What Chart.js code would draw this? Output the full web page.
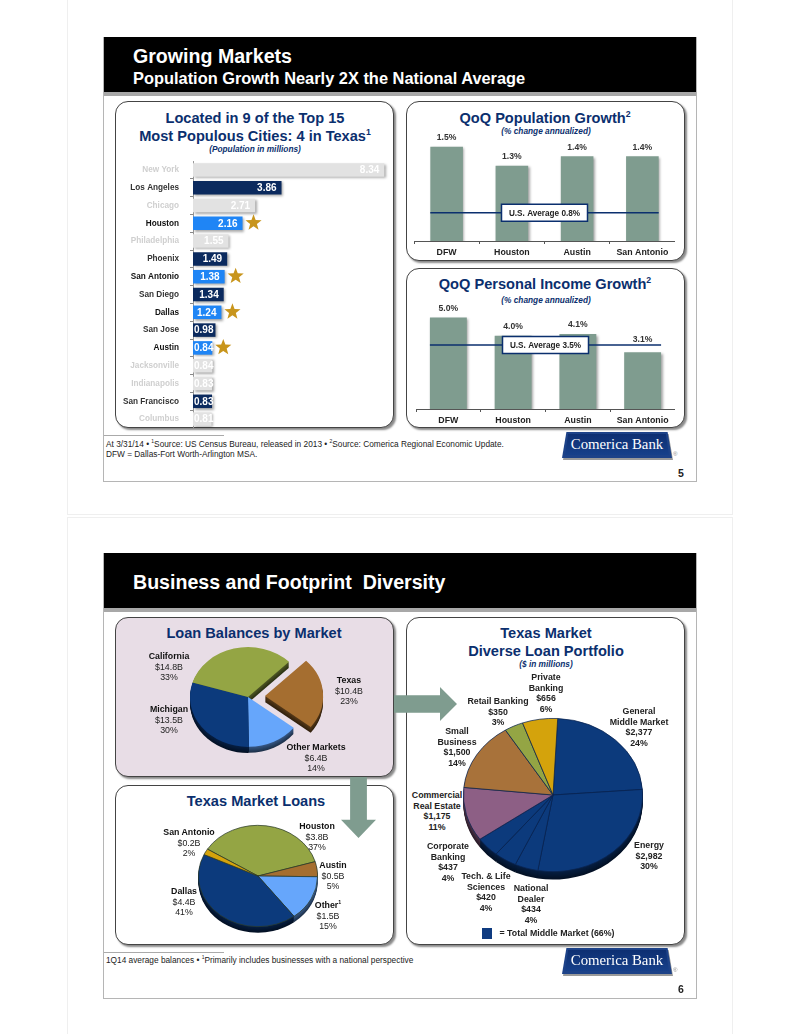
<!DOCTYPE html>
<html>
<head>
<meta charset="utf-8">
<title>Growing Markets</title>
<script src="https://cdn.jsdelivr.net/npm/chart.js@4"></script>
<style>
html, body { margin: 0; padding: 0; background: #fff; }
#page { position: relative; width: 799px; height: 1034px; overflow: hidden; font-family: "Liberation Sans", Arial, sans-serif; color: #222; }
#page div, #page canvas { position: absolute; }
.sheet { left: 67px; width: 664px; border: 1px solid #efefef; background: #fff; }
.slide { left: 103px; width: 592px; border: 1px solid #b5b5b5; background: #fff; }
.head { left: 104px; width: 592px; background: #000; border-bottom: 4px solid #a8a8a8; }
.panel { box-sizing: border-box; border: 1.5px solid #444; border-radius: 13px; background: #fff; box-shadow: 2px 2px 2px #8a8a8a; }
.rule { left: 104px; width: 120px; height: 1px; background: #aaa; }
.h1 { left: 133px; color: #fff; font-weight: bold; white-space: nowrap; }
.title { transform: translateX(-50%); text-align: center; white-space: nowrap; color: #0b2f6e; font-weight: bold; font-size: 14.6px; line-height: 17.5px; }
.sub { transform: translateX(-50%); white-space: nowrap; color: #0b2f6e; font-weight: bold; font-style: italic; font-size: 8.3px; line-height: 10px; }
.lab { transform: translateX(-50%); text-align: center; white-space: nowrap; font-size: 8.8px; line-height: 10.7px; color: #222; }
.lab b { color: #111; }
.bold { font-weight: bold; line-height: 10.5px; }
.foot { left: 106px; white-space: nowrap; font-size: 8.3px; line-height: 10px; color: #222; }
.num { left: 678px; font-size: 10.5px; font-weight: bold; color: #222; }
sup { font-size: 60%; line-height: 0; }
.logoShade { width: 110px; height: 26px; background: #9a9a9a; clip-path: polygon(4% 0, 96% 0, 100% 100%, 0 100%); }
.logoEdge { width: 110px; height: 26px; background: #1d4288; clip-path: polygon(4% 0, 96% 0, 100% 100%, 0 100%); }
.logoFill { width: 104px; height: 21px; background: linear-gradient(#0d2f72, #17408a); clip-path: polygon(3% 0, 97% 0, 100% 100%, 0 100%); }
.logoText { width: 110px; text-align: center; color: #fff; font-family: "Liberation Serif", serif; font-size: 14.8px; line-height: 24px; white-space: nowrap; }
.reg { font-size: 6px; color: #888; }
.arrow { background: #7f9c8f; }
</style>
</head>
<body>
<div id="page">
  <div class="sheet" style="top:-2px;height:515px"></div>
  <div class="sheet" style="top:517px;height:520px"></div>

  <!-- slide 5 -->
  <div class="slide" style="top:37px;height:443px"></div>
  <div class="head" style="top:37px;height:55px"></div>
  <div class="h1" style="top:44px;font-size:19.6px;line-height:24px">Growing Markets</div>
  <div class="h1" style="top:68px;font-size:16.4px;line-height:20px">Population Growth Nearly 2X the National Average</div>

  <div class="panel" style="left:115px;top:101px;width:279px;height:327px"></div>
  <div class="panel" style="left:406px;top:101px;width:279px;height:160px"></div>
  <div class="panel" style="left:406px;top:268px;width:279px;height:160px"></div>

  <div class="title" style="left:255px;top:110px">Located in 9 of the Top 15<br>Most Populous Cities: 4 in Texas<sup>1</sup></div>
  <div class="sub" style="left:255px;top:144px">(Population in millions)</div>
  <div class="title" style="left:545px;top:110px">QoQ Population Growth<sup>2</sup></div>
  <div class="sub" style="left:546px;top:126px">(% change annualized)</div>
  <div class="title" style="left:545px;top:276px">QoQ Personal Income Growth<sup>2</sup></div>
  <div class="sub" style="left:546px;top:295px">(% change annualized)</div>

  <canvas id="cityChart" style="left:115px;top:161px;width:278px;height:267px"></canvas>
  <canvas id="popChart" style="left:414px;top:128px;width:261px;height:130px"></canvas>
  <canvas id="incomeChart" style="left:416px;top:298px;width:259px;height:128px"></canvas>

  <div class="rule" style="top:435px"></div>
  <div class="foot" style="top:439px">At 3/31/14 &#8226; <sup>1</sup>Source: US Census Bureau, released in 2013 &#8226; <sup>2</sup>Source: Comerica Regional Economic Update.</div>
  <div class="foot" style="top:449px">DFW = Dallas-Fort Worth-Arlington MSA.</div>
  <div class="logoShade" style="left:563px;top:434px"></div>
  <div class="logoEdge" style="left:562px;top:432px"></div>
  <div class="logoFill" style="left:565px;top:434px"></div>
  <div class="logoText" style="left:562px;top:432px">Comerica Bank</div>
  <div class="reg" style="left:673px;top:451px">&#174;</div>
  <div class="num" style="top:467px">5</div>

  <!-- slide 6 -->
  <div class="slide" style="top:553px;height:444px"></div>
  <div class="head" style="top:553px;height:55px"></div>
  <div class="h1" style="top:570px;font-size:19.6px;line-height:24px">Business and Footprint&nbsp; Diversity</div>

  <div class="panel" style="left:115px;top:617px;width:279px;height:160px;background:#e8dde6"></div>
  <div class="panel" style="left:115px;top:785px;width:279px;height:160px"></div>
  <div class="panel" style="left:406px;top:617px;width:279px;height:328px"></div>

  <div class="arrow" style="left:394px;top:687px;width:63px;height:34px;clip-path:polygon(0 24%,73% 24%,73% 0,100% 50%,73% 100%,73% 76%,0 76%)"></div>
  <div class="arrow" style="left:341px;top:777px;width:35px;height:61px;clip-path:polygon(26% 0,74% 0,74% 70%,100% 70%,50% 100%,0 70%,26% 70%)"></div>

  <div class="title" style="left:254px;top:625px">Loan Balances by Market</div>
  <div class="title" style="left:256px;top:793px">Texas Market Loans</div>
  <div class="title" style="left:546px;top:625px">Texas Market<br>Diverse Loan Portfolio</div>
  <div class="sub" style="left:546px;top:659px">($ in millions)</div>

  <canvas id="marketPie" style="left:156px;top:605px;width:184px;height:184px"></canvas>
  <canvas id="texasPie" style="left:198px;top:816px;width:120px;height:120px"></canvas>
  <canvas id="portfolioPie" style="left:463px;top:705px;width:180px;height:180px"></canvas>

  <div class="lab" style="left:169px;top:651px"><b>California</b><br>$14.8B<br>33%</div>
  <div class="lab" style="left:349px;top:675px"><b>Texas</b><br>$10.4B<br>23%</div>
  <div class="lab" style="left:169px;top:704px"><b>Michigan</b><br>$13.5B<br>30%</div>
  <div class="lab" style="left:316px;top:742px"><b>Other Markets</b><br>$6.4B<br>14%</div>

  <div class="lab" style="left:317px;top:821px"><b>Houston</b><br>$3.8B<br>37%</div>
  <div class="lab" style="left:333px;top:860px"><b>Austin</b><br>$0.5B<br>5%</div>
  <div class="lab" style="left:328px;top:900px"><b>Other<sup>1</sup></b><br>$1.5B<br>15%</div>
  <div class="lab" style="left:184px;top:886px"><b>Dallas</b><br>$4.4B<br>41%</div>
  <div class="lab" style="left:189px;top:827px"><b>San Antonio</b><br>$0.2B<br>2%</div>

  <div class="lab bold" style="left:546px;top:672px">Private<br>Banking<br>$656<br>6%</div>
  <div class="lab bold" style="left:498px;top:696px">Retail Banking<br>$350<br>3%</div>
  <div class="lab bold" style="left:639px;top:706px">General<br>Middle Market<br>$2,377<br>24%</div>
  <div class="lab bold" style="left:457px;top:726px">Small<br>Business<br>$1,500<br>14%</div>
  <div class="lab bold" style="left:437px;top:790px">Commercial<br>Real Estate<br>$1,175<br>11%</div>
  <div class="lab bold" style="left:448px;top:841px">Corporate<br>Banking<br>$437<br>4%</div>
  <div class="lab bold" style="left:486px;top:871px">Tech. &amp; Life<br>Sciences<br>$420<br>4%</div>
  <div class="lab bold" style="left:531px;top:883px">National<br>Dealer<br>$434<br>4%</div>
  <div class="lab bold" style="left:649px;top:840px">Energy<br>$2,982<br>30%</div>

  <div style="left:482px;top:928px;width:10px;height:11px;background:#0f3b80"></div>
  <div class="lab bold" style="left:557px;top:928px">= Total Middle Market (66%)</div>

  <div class="rule" style="top:952px"></div>
  <div class="foot" style="top:955px">1Q14 average balances &#8226; <sup>1</sup>Primarily includes businesses with a national perspective</div>
  <div class="logoShade" style="left:563px;top:950px"></div>
  <div class="logoEdge" style="left:562px;top:948px"></div>
  <div class="logoFill" style="left:565px;top:950px"></div>
  <div class="logoText" style="left:562px;top:948px">Comerica Bank</div>
  <div class="reg" style="left:673px;top:967px">&#174;</div>
  <div class="num" style="top:983px">6</div>
</div>

<script>
// population chart
var cities = ['New York', 'Los Angeles', 'Chicago', 'Houston', 'Philadelphia', 'Phoenix', 'San Antonio', 'San Diego', 'Dallas', 'San Jose', 'Austin', 'Jacksonville', 'Indianapolis', 'San Francisco', 'Columbus'];
var cityPopulation = [8.34, 3.86, 2.71, 2.16, 1.55, 1.49, 1.38, 1.34, 1.24, 0.98, 0.84, 0.84, 0.83, 0.83, 0.81];
var texasCities = ['Houston', 'San Antonio', 'Dallas', 'Austin'];
var footprintCities = ['Los Angeles', 'Phoenix', 'San Diego', 'San Jose', 'San Francisco'];

// growth charts
var metros = ['DFW', 'Houston', 'Austin', 'San Antonio'];
var populationGrowth = [1.5, 1.3, 1.4, 1.4];
var populationAverage = 0.8;
var incomeGrowth = [5.0, 4.0, 4.1, 3.1];
var incomeAverage = 3.5;

// pies
var marketNames = ['Texas', 'Other Markets', 'Michigan', 'California'];
var marketBalances = [10.4, 6.4, 13.5, 14.8];
var texasNames = ['Houston', 'Austin', 'Other', 'Dallas', 'San Antonio'];
var texasBalances = [3.8, 0.5, 1.5, 4.4, 0.2];
var portfolioNames = ['General Middle Market', 'Energy', 'National Dealer', 'Tech. & Life Sciences', 'Corporate Banking', 'Commercial Real Estate', 'Small Business', 'Retail Banking', 'Private Banking'];
var portfolioBalances = [2377, 2982, 434, 420, 437, 1175, 1500, 350, 656];

var NAVY = '#0b2f6e';
var SANS = '"Liberation Sans", Arial, sans-serif';

function cityColor(name) {
    if (texasCities.indexOf(name) >= 0) return '#1f85f5';
    if (footprintCities.indexOf(name) >= 0) return '#0b2a5e';
    return '#e2e2e2';
}

function cityLabelColor(name) {
    if (texasCities.indexOf(name) >= 0) return '#111';
    if (footprintCities.indexOf(name) >= 0) return '#333';
    return '#cfcfcf';
}

function darken(hex, f) {
    var n = parseInt(hex.slice(1), 16);
    var r = Math.round((n >> 16) * f), g = Math.round(((n >> 8) & 255) * f), b = Math.round((n & 255) * f);
    return 'rgb(' + r + ',' + g + ',' + b + ')';
}

function drawStar(ctx, x, y, r) {
    ctx.beginPath();
    for (var i = 0; i < 10; i++) {
        var a = -Math.PI / 2 + i * Math.PI / 5;
        var d = i % 2 ? r * 0.42 : r;
        ctx.lineTo(x + Math.cos(a) * d, y + Math.sin(a) * d);
    }
    ctx.closePath();
    ctx.fill();
}

// soft drop shadow behind the bars
var barShadow = {
    id: 'barShadow',
    beforeDatasetDraw: function(chart) {
        var ctx = chart.ctx;
        ctx.save();
        ctx.shadowColor = 'rgba(0,0,0,0.35)';
        ctx.shadowBlur = 2.5;
        ctx.shadowOffsetX = 1.5;
        ctx.shadowOffsetY = 1.5;
    },
    afterDatasetDraw: function(chart) {
        chart.ctx.restore();
    }
};

// values inside the bars and stars on the Texas cities
var cityLabels = {
    id: 'cityLabels',
    afterDatasetsDraw: function(chart) {
        var ctx = chart.ctx;
        var bars = chart.getDatasetMeta(0).data;
        ctx.save();
        ctx.font = 'bold 10px ' + SANS;
        ctx.textBaseline = 'middle';
        ctx.textAlign = 'left';
        bars.forEach(function(bar, i) {
            var text = cityPopulation[i].toFixed(2);
            var w = ctx.measureText(text).width;
            var x = Math.max(bar.x - 5 - w, bar.base + 1);
            ctx.fillStyle = '#fff';
            ctx.fillText(text, x, bar.y + 0.5);
            if (texasCities.indexOf(cities[i]) >= 0) {
                ctx.fillStyle = '#c8951c';
                drawStar(ctx, bar.x + 11, bar.y - 0.5, 8.5);
            }
        });
        ctx.restore();
    }
};

// percent labels plus the U.S. average line and its box
var growthLabels = {
    id: 'growthLabels',
    afterDatasetsDraw: function(chart, args, opts) {
        var ctx = chart.ctx;
        var bars = chart.getDatasetMeta(0).data;
        var values = chart.data.datasets[0].data;
        var y = chart.scales.y.getPixelForValue(opts.average);
        var first = bars[0], last = bars[bars.length - 1];
        ctx.save();
        ctx.font = 'bold 8.6px ' + SANS;
        ctx.textAlign = 'center';
        ctx.textBaseline = 'middle';
        ctx.fillStyle = '#333';
        bars.forEach(function(bar, i) {
            var labelY = bar.y - 9;
            // keep a label clear of the average line
            if (Math.abs(labelY - y) < 7) labelY = y - 5.5;
            ctx.fillText(values[i].toFixed(1) + '%', bar.x, labelY);
        });
        ctx.strokeStyle = NAVY;
        ctx.lineWidth = 1.5;
        ctx.beginPath();
        ctx.moveTo(first.x - first.width / 2, y);
        ctx.lineTo(last.x + last.width / 2, y);
        ctx.stroke();
        var cx = (chart.chartArea.left + chart.chartArea.right) / 2;
        ctx.fillStyle = '#fff';
        ctx.fillRect(cx - 43, y - 8.5, 86, 17);
        ctx.strokeRect(cx - 43, y - 8.5, 86, 17);
        ctx.fillStyle = '#222';
        ctx.font = 'bold 8.2px ' + SANS;
        ctx.fillText('U.S. Average ' + opts.average.toFixed(1) + '%', cx, y + 0.5);
        ctx.restore();
    }
};

// squashes a pie into an ellipse and gives it a dark rim below
var pieDepth = {
    id: 'pieDepth',
    beforeDatasetsDraw: function(chart, args, opts) {
        var ctx = chart.ctx;
        var arcs = chart.getDatasetMeta(0).data;
        var cx = (chart.chartArea.left + chart.chartArea.right) / 2;
        var cy = (chart.chartArea.top + chart.chartArea.bottom) / 2;
        ctx.save();
        ctx.translate(cx, cy);
        ctx.scale(1, opts.squash);
        ctx.translate(-cx, -cy);
        for (var d = opts.depth; d >= 1; d--) {
            arcs.forEach(function(arc) {
                var mid = (arc.startAngle + arc.endAngle) / 2;
                // the arc element moves by a quarter of its offset option
                var off = (arc.options.offset || 0) / 4;
                var x = arc.x + Math.cos(mid) * off;
                var y = arc.y + Math.sin(mid) * off + d / opts.squash;
                ctx.beginPath();
                ctx.moveTo(x, y);
                ctx.arc(x, y, arc.outerRadius, arc.startAngle, arc.endAngle);
                ctx.closePath();
                ctx.fillStyle = darken(arc.options.backgroundColor, 0.55 - 0.25 * d / opts.depth);
                ctx.fill();
            });
        }
    },
    afterDatasetsDraw: function(chart) {
        chart.ctx.restore();
    }
};

function cityBarChart() {
    new Chart(document.getElementById('cityChart').getContext('2d'), {
        type: 'bar',
        data: {
            labels: cities,
            datasets: [{
                data: cityPopulation,
                backgroundColor: cities.map(cityColor),
                barPercentage: 0.76,
                categoryPercentage: 1
            }]
        },
        options: {
            indexAxis: 'y',
            responsive: false,
            animation: false,
            plugins: { legend: { display: false }, tooltip: { enabled: false } },
            layout: { padding: 0 },
            scales: {
                x: { display: false, min: 0, max: 8.72 },
                y: {
                    afterFit: function(scale) {
                        scale.width = 78;
                        scale.paddingTop = 0;
                        scale.paddingBottom = 0;
                    },
                    border: { color: '#999' },
                    grid: { drawOnChartArea: false, offset: true, tickLength: 3, color: '#888' },
                    ticks: {
                        autoSkip: false,
                        padding: 11,
                        font: { family: SANS, size: 8.2, weight: 'bold' },
                        color: function(c) { return cityLabelColor(cities[c.index]); }
                    }
                }
            }
        },
        plugins: [barShadow, cityLabels]
    });
}

function growthChart(id, values, average, yMin, yMax, axisHeight, barShare) {
    new Chart(document.getElementById(id).getContext('2d'), {
        type: 'bar',
        data: {
            labels: metros,
            datasets: [{
                data: values,
                backgroundColor: '#7f9c8f',
                barPercentage: barShare,
                categoryPercentage: 1
            }]
        },
        options: {
            responsive: false,
            animation: false,
            plugins: {
                legend: { display: false },
                tooltip: { enabled: false },
                growthLabels: { average: average }
            },
            layout: { padding: 0 },
            scales: {
                y: { display: false, min: yMin, max: yMax },
                x: {
                    afterFit: function(scale) { scale.height = axisHeight; },
                    border: { color: '#555' },
                    grid: { drawOnChartArea: false, offset: true, tickLength: 3, color: '#555' },
                    ticks: {
                        padding: 3,
                        maxRotation: 0,
                        font: { family: SANS, size: 8.8, weight: 'bold' },
                        color: '#222'
                    }
                }
            }
        },
        plugins: [barShadow, growthLabels]
    });
}

function pieChart(id, names, values, colors, rotation, squash, depth, offsets, line) {
    new Chart(document.getElementById(id).getContext('2d'), {
        type: 'pie',
        data: {
            labels: names,
            datasets: [{
                data: values,
                backgroundColor: colors,
                offset: offsets,
                borderWidth: line ? 0.8 : 0,
                borderColor: line
            }]
        },
        options: {
            responsive: false,
            animation: false,
            rotation: rotation,
            layout: { padding: 0 },
            plugins: {
                legend: { display: false },
                tooltip: { enabled: false },
                pieDepth: { squash: squash, depth: depth }
            }
        },
        plugins: [pieDepth]
    });
}

function sizeCanvases() {
    var list = document.querySelectorAll('canvas');
    for (var i = 0; i < list.length; i++) {
        list[i].width = parseInt(list[i].style.width, 10);
        list[i].height = parseInt(list[i].style.height, 10);
    }
}

document.addEventListener('DOMContentLoaded', function() {
    sizeCanvases();
    cityBarChart();
    growthChart('popChart', populationGrowth, populationAverage, 0.5, 1.70, 17, 0.5);
    growthChart('incomeChart', incomeGrowth, incomeAverage, 0, 6.07, 17, 0.57);
    pieChart('marketPie', marketNames, marketBalances, ['#a56e30', '#66a6fb', '#0c3a7c', '#94a544'], 45, 0.86, 6, [68, 0, 0, 0], null);
    pieChart('texasPie', texasNames, texasBalances, ['#94a544', '#a56e30', '#66a6fb', '#0c3a7c', '#d4a30c'], -58, 0.85, 6, 0, '#2a3a2a');
    pieChart('portfolioPie', portfolioNames, portfolioBalances,
        ['#0c3a7c', '#0c3a7c', '#0c3a7c', '#0c3a7c', '#0c3a7c', '#8d5f85', '#a8723a', '#94a544', '#d4a30c'], 3, 0.855, 8, 0, '#0a2350');
});
</script>
</body>
</html>
